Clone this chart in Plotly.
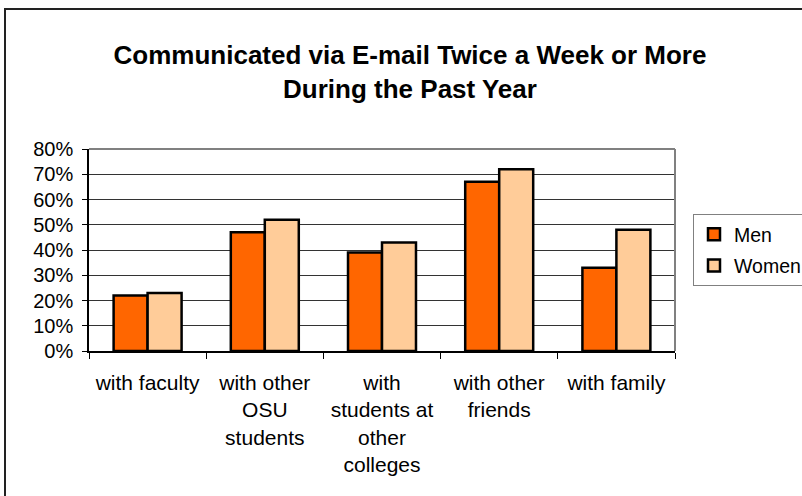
import plotly.graph_objects as go

categories = ["with faculty", "with other<br>OSU<br>students", "with<br>students at<br>other<br>colleges",
              "with other<br>friends", "with family"]
men = [0.22, 0.47, 0.39, 0.67, 0.33]
women = [0.23, 0.52, 0.43, 0.72, 0.48]
series_names = ["Men", "Women"]
title_lines = ["Communicated via E-mail Twice a Week or More", "During the Past Year"]

FONT = "Liberation Sans, Arial, sans-serif"

fig = go.Figure()
fig.add_trace(go.Bar(name=series_names[0], x=categories, y=men, legendgroup="m",
                     marker=dict(color="#FF6600", line=dict(color="black", width=2.5))))
fig.add_trace(go.Bar(name=series_names[1], x=categories, y=women, legendgroup="w",
                     marker=dict(color="#FFCC99", line=dict(color="black", width=2.5))))

L, R, T, B = 89, 675, 149, 351
W, H = 802, 496
pw, ph = R - L, B - T

def px_x(p):
    return (p - L) / pw

def px_y(p):
    return (B - p) / ph

fig.update_layout(
    width=W, height=H,
    margin=dict(l=L, r=W - R, t=T, b=H - B, pad=0, autoexpand=False),
    paper_bgcolor="white", plot_bgcolor="white",
    font=dict(family=FONT, size=20, color="black"),
    barmode="group", bargap=0.42, bargroupgap=0,
    showlegend=True,
    legend=dict(x=px_x(693), y=px_y(214), xanchor="left", yanchor="top",
                bordercolor="#808080", borderwidth=1, bgcolor="white",
                font=dict(size=19.5, family=FONT), traceorder="grouped", tracegroupgap=3,
                itemwidth=30),
    title=dict(text="<b>" + title_lines[0] + "<br>" + title_lines[1] + "</b>",
               x=410 / W, xanchor="center", y=1 - 64 / H, yanchor="middle",
               font=dict(size=26, family=FONT, color="black")),
    xaxis=dict(type="category", showgrid=False, showline=True, linecolor="black", linewidth=1.5,
               ticks="outside", tickson="boundaries", ticklen=6, tickcolor="black", tickwidth=1,
               tickfont=dict(size=21), ticklabelstandoff=12),
    yaxis=dict(range=[0, 0.8], dtick=0.1, tickformat=".0%", showgrid=True, gridcolor="#333333",
               gridwidth=1, showline=True, linecolor="black", linewidth=1.5, ticks="outside",
               ticklen=5, tickcolor="black", zeroline=False, tickfont=dict(size=20),
               ticklabelstandoff=5),
)

# plot area top and right border (grey)
fig.add_shape(type="line", xref="paper", yref="paper", x0=0, x1=1, y0=1, y1=1,
              line=dict(color="#808080", width=2), layer="above")
fig.add_shape(type="line", xref="paper", yref="paper", x0=1, x1=1, y0=0, y1=1,
              line=dict(color="#808080", width=2), layer="above")
# outer chart frame
fig.add_shape(type="rect", xref="paper", yref="paper",
              x0=px_x(5), x1=px_x(810), y0=px_y(9), y1=px_y(505),
              line=dict(color="#222222", width=2), fillcolor="rgba(0,0,0,0)", layer="below")

fig.write_html("out.html", config={"displayModeBar": False},
               post_script="document.body.style.margin='0';document.body.style.overflow='hidden';")
